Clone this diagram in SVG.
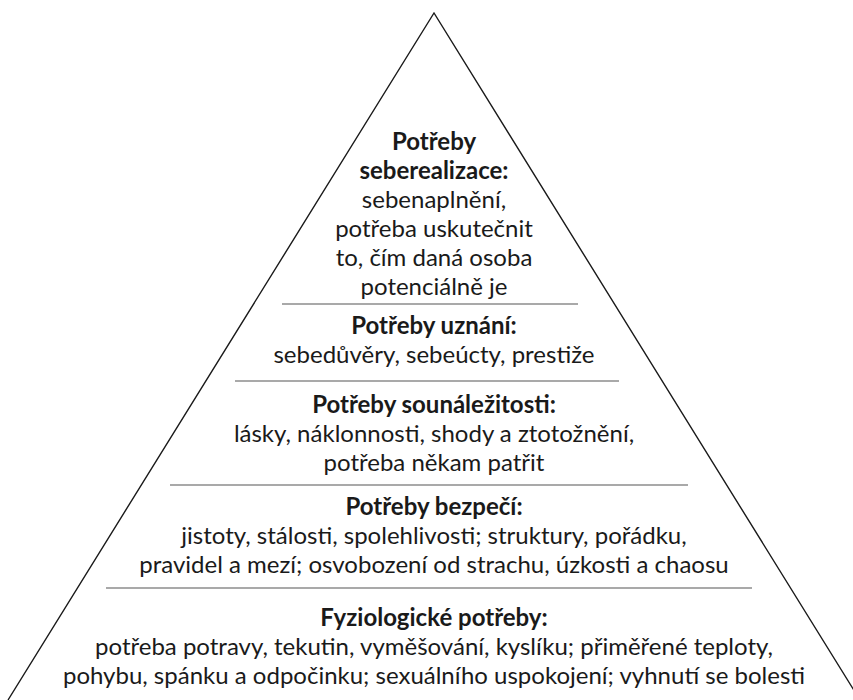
<svg xmlns="http://www.w3.org/2000/svg" width="853" height="700" viewBox="0 0 853 700">
  <style>
    .t { font-family: Lato, "Open Sans", "DejaVu Sans", sans-serif; font-size: 24px; fill: #1a1a1a; text-anchor: middle; }
    .h { font-weight: 700; }
    .edge { fill: none; stroke: #1a1a1a; stroke-width: 1.4; }
    .div { stroke: #555; stroke-width: 1.2; }
  </style>
  <rect width="853" height="700" fill="#ffffff"/>
  <g id="frame">
    <polyline class="edge" points="8,700 434,13 860,700"/>
  </g>
  <g id="connectors">
    <line class="div" x1="282" y1="304" x2="578" y2="304"/>
    <line class="div" x1="235" y1="381" x2="619" y2="381"/>
    <line class="div" x1="170" y1="485" x2="688" y2="485"/>
    <line class="div" x1="106" y1="588" x2="752" y2="588"/>
  </g>
  <g id="seberealizace">
    <text class="t h" x="434" y="150">Potřeby</text>
    <text class="t h" x="434" y="179">seberealizace:</text>
    <text class="t" x="434" y="208">sebenaplnění,</text>
    <text class="t" x="434" y="237">potřeba uskutečnit</text>
    <text class="t" x="434" y="266">to, čím daná osoba</text>
    <text class="t" x="434" y="295">potenciálně je</text>
  </g>
  <g id="uznani">
    <text class="t h" x="434" y="334">Potřeby uznání:</text>
    <text class="t" x="434" y="363">sebedůvěry, sebeúcty, prestiže</text>
  </g>
  <g id="sounalezitost">
    <text class="t h" x="434" y="413">Potřeby sounáležitosti:</text>
    <text class="t" x="434" y="442">lásky, náklonnosti, shody a ztotožnění,</text>
    <text class="t" x="434" y="471">potřeba někam patřit</text>
  </g>
  <g id="bezpeci">
    <text class="t h" x="434" y="515">Potřeby bezpečí:</text>
    <text class="t" x="434" y="544">jistoty, stálosti, spolehlivosti; struktury, pořádku,</text>
    <text class="t" x="434" y="573">pravidel a mezí; osvobození od strachu, úzkosti a chaosu</text>
  </g>
  <g id="fyziologicke">
    <text class="t h" x="434" y="626">Fyziologické potřeby:</text>
    <text class="t" x="434" y="655">potřeba potravy, tekutin, vyměšování, kyslíku; přiměřené teploty,</text>
    <text class="t" x="434" y="684">pohybu, spánku a odpočinku; sexuálního uspokojení; vyhnutí se bolesti</text>
  </g>
</svg>
